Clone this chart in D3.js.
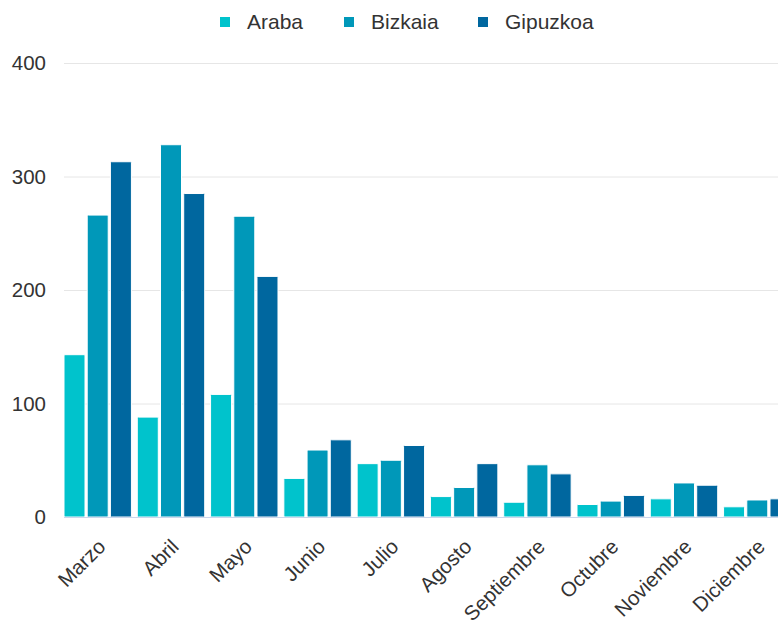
<!DOCTYPE html>
<html>
<head>
<meta charset="utf-8">
<script src="https://cdn.jsdelivr.net/npm/d3@7"></script>
<style>
	body { margin: 0; background: #fff; }
	svg { display: block; font-family: "Liberation Sans", Arial, sans-serif; }
	.grid line { stroke: #e6e6e6; }
	.tick-label { fill: #333; font-size: 20.5px; }
	.legend-label { fill: #333; font-size: 21px; }
</style>
</head>
<body>
<svg width="778" height="620"></svg>
<script>
const months = ["Marzo", "Abril", "Mayo", "Junio", "Julio", "Agosto", "Septiembre", "Octubre", "Noviembre", "Diciembre"];
const provinces = ["Araba", "Bizkaia", "Gipuzkoa"];
const araba = [143, 88, 108, 34, 47, 18, 13, 11, 16, 9];
const bizkaia = [266, 328, 265, 59, 50, 26, 46, 14, 30, 15];
const gipuzkoa = [313, 285, 212, 68, 63, 47, 38, 19, 28, 16];
const yTicks = [0, 100, 200, 300, 400];
const colors = ["#00c3cc", "#0098b9", "#00679f"];

const series = [araba, bizkaia, gipuzkoa];

const svg = d3.select("svg");
const width = +svg.attr("width");

const plot = { left: 64, top: 63, bottom: 517, right: 791 };

const y = d3.scaleLinear().domain([0, 400]).range([plot.bottom, plot.top]);

const x0 = d3.scaleBand()
	.domain(months)
	.range([plot.left, plot.right])
	.paddingInner(0.08)
	.paddingOuter(0);

const x1 = d3.scaleBand()
	.domain(provinces)
	.range([0, x0.bandwidth()])
	.paddingInner(0.095);

const color = d3.scaleOrdinal().domain(provinces).range(colors);

// gridlines
svg.append("g")
	.attr("class", "grid")
	.selectAll("line")
	.data(yTicks.filter(d => d > 0))
	.enter()
	.append("line")
	.attr("x1", plot.left)
	.attr("x2", width)
	.attr("y1", d => y(d) + 0.5)
	.attr("y2", d => y(d) + 0.5);

// y labels
svg.append("g")
	.selectAll("text")
	.data(yTicks)
	.enter()
	.append("text")
	.attr("class", "tick-label")
	.attr("x", 46)
	.attr("y", d => y(d) + 7)
	.attr("text-anchor", "end")
	.text(d => d);

// bars
const groups = svg.append("g")
	.selectAll("g")
	.data(months)
	.enter()
	.append("g")
	.attr("transform", d => `translate(${x0(d)},0)`);

groups.selectAll("rect")
	.data((m, i) => provinces.map((p, j) => ({ key: p, value: series[j][i] })))
	.enter()
	.append("rect")
	.attr("x", d => x1(d.key))
	.attr("y", d => y(d.value))
	.attr("width", x1.bandwidth())
	.attr("height", d => y(0) - y(d.value))
	.attr("rx", 1)
	.attr("fill", d => color(d.key))
	.attr("stroke", "#fff")
	.attr("stroke-width", 1);

// x axis line
svg.append("line")
	.attr("x1", plot.left)
	.attr("x2", width)
	.attr("y1", plot.bottom + 0.5)
	.attr("y2", plot.bottom + 0.5)
	.attr("stroke", "#ccd6eb")
	.attr("stroke-width", 1);

// x labels
svg.append("g")
	.selectAll("text")
	.data(months)
	.enter()
	.append("text")
	.attr("class", "tick-label")
	.attr("text-anchor", "end")
	.attr("transform", d => `translate(${x0(d) + x0.bandwidth() / 2 + 9},${plot.bottom + 31}) rotate(-45)`)
	.text(d => d);

// legend
const legendX = [220, 344, 478];
const legend = svg.append("g")
	.selectAll("g")
	.data(provinces)
	.enter()
	.append("g")
	.attr("transform", (d, i) => `translate(${legendX[i]},17)`);

legend.append("rect")
	.attr("width", 10)
	.attr("height", 10)
	.attr("fill", d => color(d));

legend.append("text")
	.attr("class", "legend-label")
	.attr("x", 27)
	.attr("y", 12)
	.text(d => d);
</script>
</body>
</html>
